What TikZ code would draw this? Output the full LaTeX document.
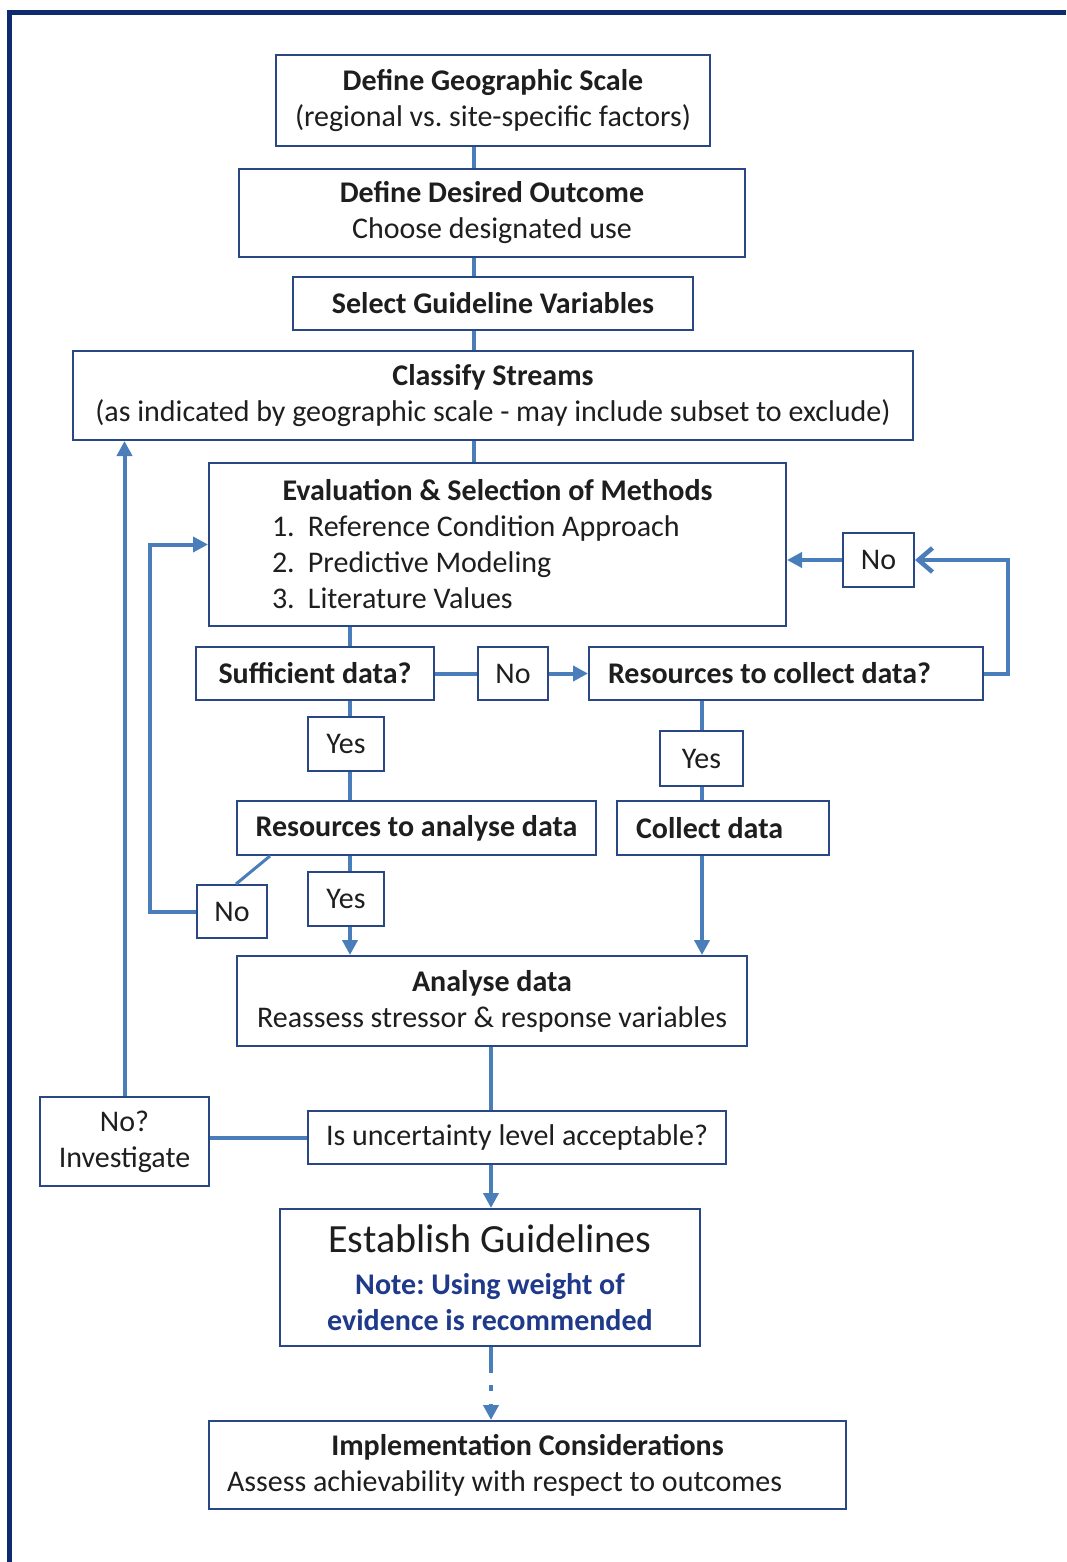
\documentclass[tikz,border=0pt]{standalone}
\usepackage{fontspec}
\setmainfont{Carlito}
\usepackage{tikz}
\usepackage{xcolor}
\usetikzlibrary{positioning,arrows.meta}
\frenchspacing
\definecolor{framenavy}{HTML}{0D2B6E}
\definecolor{boxnavy}{HTML}{2A4785}
\definecolor{linkblue}{HTML}{4A7EBB}
\definecolor{notenavy}{HTML}{1F3A8A}
\definecolor{textgray}{HTML}{1E1E1E}
\tikzset{
>={Triangle[length=15pt,width=15pt]},
  action/.style={
    rectangle,
    draw=boxnavy, line width=2pt,
    fill=white,
    text=textgray,
    inner sep=0pt,
    align=center,
    font=\fontsize{30}{36}\selectfont},
  myarrow/.style={draw=linkblue, line width=4pt},
}

\begin{document}
\begin{tikzpicture}[x=1pt,y=-1pt]
  \tikzset{
      answer/.style={action, minimum width=72pt, minimum height=54pt},
      barb/.style={-{Straight Barb[length=14pt,width=24pt,line width=4.5pt]}},
      dotted arrow/.style={dash pattern=on 26pt off 12pt on 6pt off 13pt},
  }
  \useasboundingbox (0,0) rectangle (1066,1562);
  \draw[framenavy, line width=5pt] (9,1562) -- (9,12.5) -- (1066,12.5);

  \coordinate (AuxNode01) at (473.5,0);
  \coordinate (AuxNode02) at (350,0);
  \coordinate (AuxNode03) at (702,0);
  \coordinate (AuxNode04) at (491,0);
  \coordinate (AuxNode05) at (1008,0);
  \coordinate (AuxNode06) at (150,0);

  \node[action, minimum width=434pt, minimum height=91pt] (item1) at (493,100.5)
    {\textbf{Define Geographic Scale}\\(regional vs. site-specific factors)};
  \node[action, minimum width=506pt, minimum height=88pt] (item2) at (492,213)
    {\textbf{Define Desired Outcome}\\Choose designated use};
  \node[action, minimum width=400pt, minimum height=53pt] (item3) at (493,303.5)
    {\textbf{Select Guideline Variables}};
  \node[action, minimum width=840pt, minimum height=89pt] (item4) at (493,395.5)
    {\textbf{Classify Streams}\\(as indicated by geographic scale - may include subset to exclude)};
  \node[action, align=flush left, inner xsep=63pt, text width=451pt, minimum height=163pt] (item5) at (497.5,544.5)
    {\hfill\textbf{Evaluation \& Selection of Methods}\hfill\null\\
     \makebox[36pt][l]{1.}Reference Condition Approach\\
     \makebox[36pt][l]{2.}Predictive Modeling\\
     \makebox[36pt][l]{3.}Literature Values};

  \node[action, minimum width=238pt, minimum height=53pt] (item6) at (315,673.5) {\textbf{Sufficient data?}};
  \node[answer, minimum width=70pt, minimum height=53pt] (item7) at (513,673.5) {No};
  \node[action, align=flush left, inner xsep=19pt, text width=356pt, minimum height=53pt] (item8) at (786,673.5)
    {\textbf{Resources to collect data?}};
  \node[answer, minimum width=71pt] (item9) at (878.5,560) {No};

  \node[answer, minimum width=76pt] (item10) at (346,744) {Yes};
  \node[answer, minimum width=83pt, minimum height=55pt] (item11) at (701.5,758.5) {Yes};
  \node[action, minimum width=359pt, minimum height=54pt] (item12) at (416.5,828) {\textbf{Resources to analyse data}};
  \node[action, align=flush left, inner xsep=19pt, text width=174pt, minimum height=54pt] (item13) at (723,828)
    {\textbf{Collect data}};
  \node[answer, minimum width=70pt, minimum height=53pt] (item14) at (232,911.5) {No};
  \node[answer, minimum width=76pt] (item15) at (346,899) {Yes};

  \node[action, minimum width=510pt, minimum height=90pt] (item16) at (492,1001)
    {\textbf{Analyse data}\\Reassess stressor \& response variables};
  \node[action, minimum width=418pt, minimum height=53pt] (item17) at (517,1137.5) {Is uncertainty level acceptable?};
  \node[action, minimum width=169pt, minimum height=89pt] (item18) at (124.5,1141.5) {No?\\Investigate};
  \node[action, minimum width=420pt, minimum height=137pt] (item19) at (490,1277.5)
    {{\fontsize{40}{44}\selectfont Establish Guidelines}\\[6pt]
     \textcolor{notenavy}{\textbf{Note: Using weight of}}\\
     \textcolor{notenavy}{\textbf{evidence is recommended}}};
  \node[action, align=flush left, inner xsep=18pt, text width=601pt, minimum height=88pt] (item20) at (527.5,1465)
    {\hfill\textbf{Implementation Considerations}\hfill\null\\
     Assess achievability with respect to outcomes};

  \path[myarrow] (AuxNode01 |- item1.south) -- (AuxNode01 |- item2.north);
  \path[myarrow] (AuxNode01 |- item2.south) -- (AuxNode01 |- item3.north);
  \path[myarrow] (AuxNode01 |- item3.south) -- (AuxNode01 |- item4.north);
  \path[myarrow] (AuxNode01 |- item4.south) -- (AuxNode01 |- item5.north);
  \path[myarrow] (AuxNode02 |- item5.south) -- (AuxNode02 |- item6.north);
  \path[myarrow] (item6) -- (item7);
  \path[myarrow, ->] (item7) -- (item8);
  \path[myarrow, barb] (item8.east) -- (AuxNode05 |- item8.east) |- (item9.east);
  \path[myarrow, ->] (item9.west) -- (item5.east |- item9.west);
  \path[myarrow] (AuxNode02 |- item6.south) -- (AuxNode02 |- item10.north);
  \path[myarrow] (AuxNode02 |- item10.south) -- (AuxNode02 |- item12.north);
  \path[myarrow] (AuxNode03 |- item8.south) -- (AuxNode03 |- item11.north);
  \path[myarrow] (AuxNode03 |- item11.south) -- (AuxNode03 |- item13.north);
  \path[myarrow, ->] (AuxNode03 |- item13.south) -- (AuxNode03 |- item16.north);
  \path[myarrow] (AuxNode02 |- item12.south) -- (AuxNode02 |- item15.north);
  \path[myarrow, ->] (AuxNode02 |- item15.south) -- (AuxNode02 |- item16.north);
  \path[myarrow, line width=3pt] ([xshift=34pt]item12.south west) -- ([xshift=4pt]item14.north);
  \path[myarrow, ->] (item14.west) -- (AuxNode06 |- item14.west) |- (item5.west);
  \path[myarrow] (AuxNode04 |- item16.south) -- (AuxNode04 |- item17.north);
  \path[myarrow] (item17.west) -- (item18.east |- item17.west);
  \path[myarrow, ->] (item18.north) -- (item18.north |- item4.south);
  \path[myarrow, ->] (AuxNode04 |- item17.south) -- (AuxNode04 |- item19.north);
  \path[myarrow, ->, dotted arrow] (AuxNode04 |- item19.south) -- (AuxNode04 |- item20.north);
\end{tikzpicture}
\end{document}
